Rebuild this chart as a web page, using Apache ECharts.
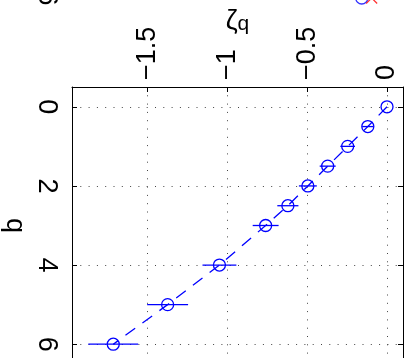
<!DOCTYPE html>
<html>
<head>
<meta charset="utf-8">
<script src="https://cdn.jsdelivr.net/npm/echarts@6/dist/echarts.min.js"></script>
<style>
  html, body { margin: 0; padding: 0; background: #fff; }
  #chart { width: 414px; height: 358px; }
</style>
</head>
<body>
<div id="chart"></div>
<script>
// Scaling exponents zeta_q against moment order q, with error bars
const qValues    = [0, 0.5, 1, 1.5, 2, 2.5, 3, 4, 5, 6];
const zetaValues = [0, -0.12, -0.246, -0.371, -0.495, -0.62, -0.759, -1.048, -1.372, -1.712];
const zetaErrors = [0, 0.035, 0.046, 0.05, 0.056, 0.066, 0.081, 0.106, 0.128, 0.156];

// Tick labels
const qTicks    = [0, 2, 4, 6];
const zetaTicks = [-1.5, -1, -0.5, 0];

// Last points of the neighbouring panel (only its edge is in view)
const nbQ         = [6];
const nbBlueZeta  = [-0.158];
const nbRedZeta   = [-0.096];

const BLUE = '#0000ff';
const FONT = 'Liberation Sans, Arial, Helvetica, sans-serif';
const minus = v => String(v).replace('-', '\u2212');

const lineData = qValues.map((q, i) => [zetaValues[i], q]);
const errData  = qValues.map((q, i) => [zetaValues[i], q, zetaErrors[i]]);

const dotted = { color: '#444', width: 1, type: [1, 7.3] };
const frameLine = { show: true, onZero: false, lineStyle: { color: '#000', width: 1 } };
const tickIn = vals => ({ show: true, inside: true, length: 5, customValues: vals, lineStyle: { color: '#000' } });

const chart = echarts.init(document.getElementById('chart'));
chart.setOption({
  backgroundColor: '#fff',
  animation: false,
  grid: [
    { left: 72, top: 87, width: 331, height: 277, outerBoundsMode: 'none', containLabel: false },
    { left: 72, top: -290, width: 331, height: 288, outerBoundsMode: 'none', containLabel: false }
  ],
  xAxis: [
    {
      gridIndex: 0, type: 'value', position: 'top', min: -1.97, max: 0.1,
      axisLine: frameLine, axisTick: tickIn(zetaTicks),
      axisLabel: {
        customValues: zetaTicks, rotate: -90, margin: 7,
        fontSize: 27, fontFamily: FONT, color: '#000', formatter: minus
      },
      splitLine: { show: true, lineStyle: dotted },
      name: '{z|\u03b6}{s|q}', nameLocation: 'middle', nameGap: 52, nameMoveOverlap: false,
      nameTextStyle: {
        rich: {
          z: { fontSize: 27, fontFamily: FONT, color: '#000', verticalAlign: 'top', lineHeight: 27 },
          s: { fontSize: 21, fontFamily: FONT, color: '#000', verticalAlign: 'bottom', lineHeight: 21, padding: [17, 0, 0, 0] }
        }
      }
    },
    {
      gridIndex: 0, type: 'value', position: 'bottom', min: -1.97, max: 0.1,
      axisLine: frameLine, axisTick: tickIn(zetaTicks),
      axisLabel: { show: false }, splitLine: { show: false }
    },
    {
      gridIndex: 1, type: 'value', min: -1.97, max: 0.1, show: false
    }
  ],
  yAxis: [
    {
      gridIndex: 0, type: 'value', position: 'left', inverse: true, min: -0.5, max: 6.5,
      axisLine: frameLine, axisTick: tickIn(qTicks),
      axisLabel: {
        customValues: qTicks, rotate: -90, margin: 12,
        fontSize: 27, fontFamily: FONT, color: '#000', formatter: minus
      },
      splitLine: { show: true, lineStyle: dotted },
      name: 'q', nameLocation: 'middle', nameGap: 44, nameRotate: -90, nameMoveOverlap: false,
      nameTextStyle: { fontSize: 27, fontFamily: FONT, color: '#000' }
    },
    {
      gridIndex: 0, type: 'value', position: 'right', inverse: true, min: -0.5, max: 6.5,
      axisLine: frameLine, axisTick: tickIn(qTicks),
      axisLabel: { show: false }, splitLine: { show: false }
    },
    {
      gridIndex: 1, type: 'value', position: 'left', inverse: true, min: -0.5, max: 6,
      axisLine: frameLine, axisTick: { show: false },
      axisLabel: {
        customValues: qTicks, rotate: -90, margin: 12,
        fontSize: 27, fontFamily: FONT, color: '#000', formatter: minus
      },
      splitLine: { show: false }
    }
  ],
  series: [
    {
      type: 'custom', xAxisIndex: 0, yAxisIndex: 0, data: errData, silent: true, z: 3,
      renderItem: (params, api) => {
        const z = api.value(0), q = api.value(1), e = api.value(2);
        const a = api.coord([z - e, q]);
        const b = api.coord([z + e, q]);
        return {
          type: 'line',
          shape: { x1: a[0], y1: a[1], x2: b[0], y2: b[1] },
          style: { stroke: BLUE, lineWidth: 1.3 }
        };
      }
    },
    {
      type: 'line', xAxisIndex: 0, yAxisIndex: 0, data: lineData, z: 4,
      symbol: 'circle', symbolSize: 12, showAllSymbol: true,
      lineStyle: { color: BLUE, width: 1.3, type: [12, 9] },
      itemStyle: { color: 'rgba(0,0,0,0)', borderColor: BLUE, borderWidth: 1.3 },
      emphasis: { disabled: true }
    },
    {
      type: 'scatter', xAxisIndex: 2, yAxisIndex: 2,
      data: nbQ.map((q, i) => [nbBlueZeta[i], q]),
      symbol: 'circle', symbolSize: 12,
      itemStyle: { color: 'rgba(0,0,0,0)', borderColor: BLUE, borderWidth: 1.3 }
    },
    {
      type: 'scatter', xAxisIndex: 2, yAxisIndex: 2,
      data: nbQ.map((q, i) => [nbRedZeta[i], q]),
      symbol: 'path://M0,0L10,10M10,0L0,10', symbolSize: 11,
      itemStyle: { color: 'rgba(0,0,0,0)', borderColor: '#ff0000', borderWidth: 1.3 }
    }
  ]
});
</script>
</body>
</html>
